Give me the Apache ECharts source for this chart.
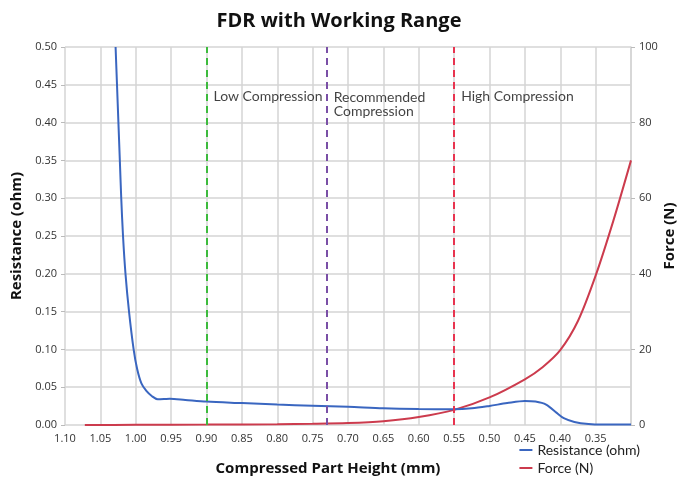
<!DOCTYPE html>
<html>
<head>
<meta charset="utf-8">
<script src="https://cdn.jsdelivr.net/npm/echarts@6/dist/echarts.min.js"></script>
<style>
  html, body { margin: 0; padding: 0; background: #fff; }
  #chart { width: 678px; height: 482px; }
</style>
</head>
<body>
<div id="chart"></div>
<script>
// compressed part height (mm) vs resistance (ohm)
const resistance = [
  [1.0285, 0.50], [1.0265, 0.45], [1.0245, 0.40], [1.0225, 0.35], [1.0205, 0.30],
  [1.018, 0.25], [1.0145, 0.20], [1.0095, 0.15], [1.003, 0.10], [0.998, 0.074],
  [0.992, 0.055], [0.985, 0.045], [0.977, 0.038], [0.969, 0.034], [0.960, 0.0343],
  [0.952, 0.0348], [0.930, 0.0332], [0.900, 0.031], [0.850, 0.029], [0.800, 0.027],
  [0.750, 0.0255], [0.700, 0.024], [0.650, 0.022], [0.600, 0.021], [0.550, 0.0207],
  [0.525, 0.022], [0.500, 0.0252], [0.475, 0.029], [0.450, 0.0318],
  [0.435, 0.031], [0.420, 0.027], [0.405, 0.016], [0.395, 0.009],
  [0.380, 0.004], [0.360, 0.0012], [0.340, 0.0005], [0.300, 0.0005]
];
// compressed part height (mm) vs force (N)
const force = [
  [1.072, 0.0], [1.00, 0.05], [0.90, 0.1], [0.80, 0.2], [0.75, 0.3],
  [0.70, 0.5], [0.65, 1.0], [0.60, 2.1], [0.55, 4.0], [0.50, 7.3],
  [0.45, 12.1], [0.425, 15.3], [0.40, 19.8], [0.375, 27.5], [0.35, 39.5],
  [0.325, 54.0], [0.30, 70.0]
];
const rangeLines = [0.90, 0.73, 0.55];
const rangeColors = ['#3dbb3d', '#7a4fa6', '#e8334f'];
const rangeNames = ['Low Compression', 'Recommended\nCompression', 'High Compression'];
const labelLevels = [0.434, 0.424, 0.434];

const font = 'Open Sans';
const textFont = 'Lato';
const chart = echarts.init(document.getElementById('chart'));

const markLines = rangeLines.map((x, i) => ({
  xAxis: x,
  lineStyle: { color: rangeColors[i], type: [7, 5], width: 2 }
}));
const annotations = rangeLines.map((x, i) => ({
  value: [x, labelLevels[i]],
  name: rangeNames[i]
}));

const axisNameStyle = {
  fontFamily: font, fontSize: 15, fontWeight: 'bold', color: '#111',
  align: 'center', verticalAlign: 'middle'
};

chart.setOption({
  animation: false,
  textStyle: { fontFamily: font },
  title: {
    text: 'FDR with Working Range',
    left: 'center',
    top: 6,
    textStyle: { fontFamily: font, fontSize: 20, fontWeight: 'bold', color: '#111' }
  },
  legend: {
    orient: 'vertical',
    right: 33,
    bottom: 2,
    itemWidth: 13,
    itemHeight: 2,
    itemGap: 4,
    icon: 'rect',
    data: ['Resistance (ohm)', 'Force (N)'],
    textStyle: { fontFamily: textFont, fontSize: 14, color: '#222' }
  },
  grid: { left: 65, right: 47, top: 47, bottom: 57, outerBoundsMode: 'none', containLabel: false },
  xAxis: {
    type: 'value',
    min: 0.30,
    max: 1.10,
    interval: 0.05,
    inverse: true,
    name: 'Compressed Part Height (mm)',
    nameLocation: 'middle',
    nameGap: 36,
    nameMoveOverlap: false,
    nameTextStyle: { fontFamily: font, fontSize: 15, fontWeight: 'bold', color: '#111', padding: [0, 40, 0, 0] },
    axisLine: { show: false },
    axisTick: { show: false },
    axisLabel: {
      showMinLabel: false,
      margin: 8,
      fontSize: 11,
      color: '#333',
      formatter: v => v.toFixed(2)
    },
    splitLine: { show: true, lineStyle: { color: '#d4d4d4', width: 1.5 } }
  },
  yAxis: [
    {
      type: 'value',
      min: 0,
      max: 0.5,
      interval: 0.05,
      name: 'Resistance (ohm)',
      nameLocation: 'middle',
      nameGap: 48,
      nameRotate: 90,
      nameMoveOverlap: false,
      nameTextStyle: axisNameStyle,
      axisLine: { show: false },
      axisTick: { show: true, length: 4, lineStyle: { color: '#bbb' } },
      axisLabel: { fontSize: 11, color: '#333', formatter: v => v.toFixed(2) },
      splitLine: { show: true, lineStyle: { color: '#d4d4d4', width: 1.5 } }
    },
    {
      type: 'value',
      min: 0,
      max: 100,
      interval: 20,
      name: 'Force (N)',
      nameLocation: 'middle',
      nameGap: 39,
      nameRotate: 90,
      nameMoveOverlap: false,
      nameTextStyle: axisNameStyle,
      axisLine: { show: true, lineStyle: { color: '#d4d4d4', width: 1.5 } },
      axisTick: { show: true, length: 4, lineStyle: { color: '#bbb' } },
      axisLabel: { fontSize: 11, color: '#333' },
      splitLine: { show: false }
    }
  ],
  series: [
    {
      name: 'Resistance (ohm)',
      type: 'line',
      data: resistance,
      yAxisIndex: 0,
      smooth: 0.3,
      showSymbol: false,
      color: '#3a66c0',
      lineStyle: { width: 2 },
      z: 4,
      markLine: {
        silent: true,
        symbol: 'none',
        label: { show: false },
        data: markLines
      }
    },
    {
      name: 'Force (N)',
      type: 'line',
      data: force,
      yAxisIndex: 1,
      smooth: 0.3,
      showSymbol: false,
      color: '#cc3b4d',
      lineStyle: { width: 2 },
      z: 3
    },
    {
      name: 'annotations',
      type: 'scatter',
      data: annotations,
      yAxisIndex: 0,
      symbolSize: 0,
      silent: true,
      label: {
        show: true,
        position: 'right',
        distance: 7,
        formatter: p => p.name,
        fontFamily: textFont,
        fontSize: 14,
        lineHeight: 14,
        color: '#111'
      }
    }
  ]
});
</script>
</body>
</html>
